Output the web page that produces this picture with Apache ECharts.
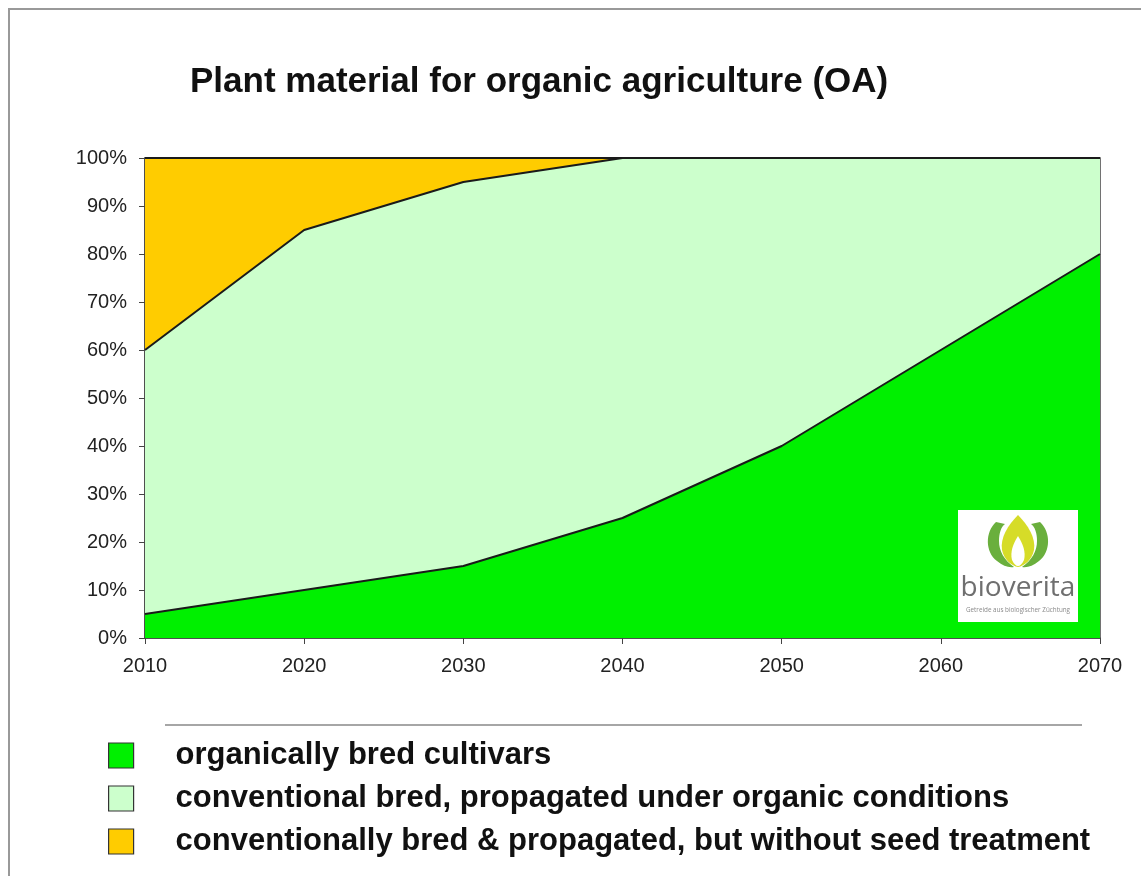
<!DOCTYPE html>
<html>
<head>
<meta charset="utf-8">
<script src="https://cdn.jsdelivr.net/npm/echarts@6/dist/echarts.min.js"></script>
<style>
  html, body { margin: 0; padding: 0; background: #fff; }
  #chart { width: 1141px; height: 876px; }
</style>
</head>
<body>
<div id="chart"></div>
<script>
const years = ['2010', '2020', '2030', '2040', '2050', '2060', '2070'];
const organicBred = [5, 10, 15, 25, 40, 60, 80];
const convOrganic = [55, 75, 80, 75, 60, 40, 20];
const convUntreated = [40, 15, 5, 0, 0, 0, 0];
const seriesNames = [
    'organically bred cultivars',
    'conventional bred, propagated under organic conditions',
    'conventionally bred & propagated, but without seed treatment'
];
const fillColors = ['#00f000', '#ccffcc', '#ffcc00'];

const chartDom = document.getElementById('chart');
const myChart = echarts.init(chartDom);

const font = '"Liberation Sans", Arial, sans-serif';

const makeSeries = (name, data, color) => ({
    name: name,
    type: 'line',
    stack: 'total',
    data: data,
    symbol: 'none',
    itemStyle: { color: color, borderColor: '#333', borderWidth: 1 },
    lineStyle: { color: '#1a1a1a', width: 2 },
    areaStyle: { color: color, opacity: 1 },
    emphasis: { disabled: true }
});

// logo leaves as a small inline svg (120x60 box)
const leafSvg = '<svg xmlns="http://www.w3.org/2000/svg" width="120" height="60" viewBox="0 0 120 60">' +
    '<path d="M38,12 C27,22 27,42 39,51 C45,56 51,58 56,57 C46,50 41,41 41,31 C41,23 43,17 47,14 Z" fill="#6aaf3d"/>' +
    '<path d="M82,12 C93,22 93,42 81,51 C75,56 69,58 64,57 C74,50 79,41 79,31 C79,23 77,17 73,14 Z" fill="#6aaf3d"/>' +
    '<path d="M60,5 C70,15 78,28 76,40 C74,50 66,56 60,57 C54,56 46,50 44,40 C42,28 50,15 60,5 Z" fill="#d6dc28"/>' +
    '<path d="M60,26 C65,34 68,42 66,50 C64,54 62,56 60,56 C58,56 56,54 54,50 C52,42 55,34 60,26 Z" fill="#ffffff"/>' +
    '</svg>';
const leafImg = 'data:image/svg+xml;charset=utf-8,' + encodeURIComponent(leafSvg);

const option = {
    animation: false,
    backgroundColor: '#fff',
    textStyle: { fontFamily: font },
    title: {
        text: 'Plant material for organic agriculture (OA)',
        left: 185,
        top: 60,
        textStyle: { fontSize: 35, fontWeight: 'bold', color: '#111', fontFamily: font }
    },
    grid: {
        left: 145,
        right: 41,
        top: 158,
        bottom: 238,
        show: true,
        borderColor: '#444',
        borderWidth: 1.5,
        backgroundColor: 'transparent'
    },
    legend: {
        orient: 'vertical',
        left: 103,
        top: 729,
        icon: 'rect',
        itemWidth: 25,
        itemHeight: 25,
        itemGap: 0,
        selectedMode: false,
        itemStyle: { borderColor: '#333', borderWidth: 1.2 },
        textStyle: {
            fontSize: 31,
            lineHeight: 29,
            fontWeight: 'bold',
            color: '#111',
            fontFamily: font,
            padding: [14, 0, 0, 37]
        },
        data: seriesNames
    },
    xAxis: {
        type: 'category',
        boundaryGap: false,
        data: years,
        axisLine: { lineStyle: { color: '#444', width: 1.5 } },
        axisTick: { show: true, length: 6, lineStyle: { color: '#444' } },
        axisLabel: { fontSize: 20, color: '#222', margin: 18 },
        splitLine: { show: false }
    },
    yAxis: {
        type: 'value',
        min: 0,
        max: 100,
        interval: 10,
        axisLine: { show: true, lineStyle: { color: '#444', width: 1.5 } },
        axisTick: { show: true, length: 6, lineStyle: { color: '#444' } },
        axisLabel: { fontSize: 20, color: '#222', formatter: '{value}%', margin: 18 },
        splitLine: { show: false }
    },
    series: [
        makeSeries(seriesNames[0], organicBred, fillColors[0]),
        makeSeries(seriesNames[1], convOrganic, fillColors[1]),
        makeSeries(seriesNames[2], convUntreated, fillColors[2])
    ],
    graphic: [
        // outer frame
        { type: 'line', shape: { x1: 8, y1: 9, x2: 1141, y2: 9 }, style: { stroke: '#999', lineWidth: 2 } },
        { type: 'line', shape: { x1: 9, y1: 8, x2: 9, y2: 876 }, style: { stroke: '#999', lineWidth: 2 } },
        // separator above legend
        { type: 'line', shape: { x1: 165, y1: 725, x2: 1082, y2: 725 }, style: { stroke: '#888', lineWidth: 1.5 } },
        // logo
        {
            type: 'group',
            x: 958,
            y: 510,
            children: [
                { type: 'rect', z: 100, shape: { x: 0, y: 0, width: 120, height: 112 }, style: { fill: '#fff' } },
                { type: 'image', z: 101, style: { image: leafImg, x: 0, y: 0, width: 120, height: 60 } },
                {
                    type: 'text',
                    z: 101,
                    x: 60,
                    y: 92,
                    style: {
                        text: 'bioverita',
                        fill: '#6f6f6f',
                        font: '28px "Open Sans", "DejaVu Sans", sans-serif',
                        align: 'center',
                        verticalAlign: 'bottom'
                    }
                },
                {
                    type: 'text',
                    z: 101,
                    x: 60,
                    y: 100,
                    style: {
                        text: 'Getreide aus biologischer Züchtung',
                        fill: '#8a8a8a',
                        font: '6.3px "Open Sans", sans-serif',
                        align: 'center',
                        verticalAlign: 'middle'
                    }
                }
            ]
        }
    ]
};

option && myChart.setOption(option);
</script>
</body>
</html>
